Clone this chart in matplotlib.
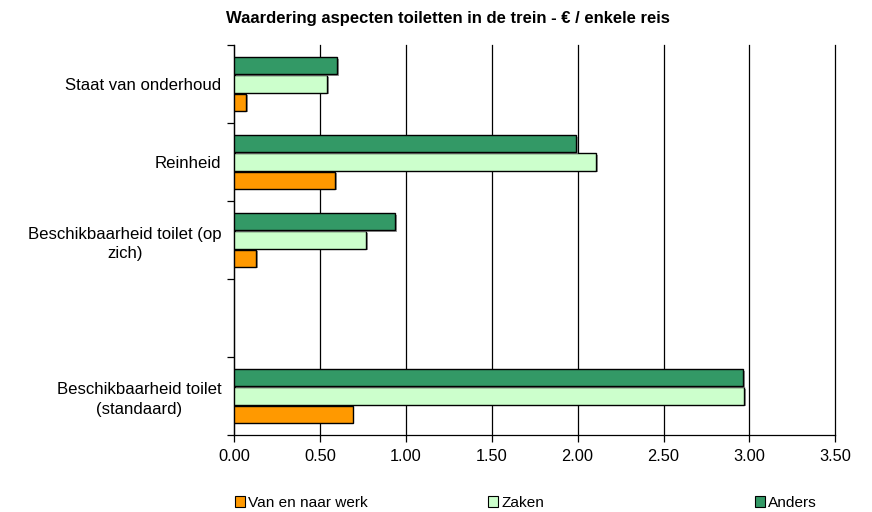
import matplotlib
matplotlib.use("Agg")
import matplotlib.pyplot as plt
import matplotlib.patheffects as pe
from matplotlib.patches import Patch
import numpy as np

plt.rcParams['font.family'] = ['Liberation Sans', 'DejaVu Sans']

# categories listed bottom -> top
categories = ["Beschikbaarheid toilet\n(standaard)", "", "Beschikbaarheid toilet (op\nzich)",
              "Reinheid", "Staat van onderhoud"]
van_en_naar_werk = [0.69, 0.0, 0.13, 0.59, 0.07]
zaken = [2.97, 0.0, 0.77, 2.11, 0.54]
anders = [2.965, 0.0, 0.94, 1.99, 0.60]
series_names = ["Van en naar werk", "Zaken", "Anders"]
colors = ["#FF9900", "#CCFFCC", "#339966"]
xticks = [0.0, 0.5, 1.0, 1.5, 2.0, 2.5, 3.0, 3.5]

fig = plt.figure(figsize=(8.72, 5.12), dpi=100)
ax = fig.add_axes([234/872, 1-435/512, (835.3-234)/872, (435-45)/512])

y = np.arange(len(categories))
h = 0.22
off = 0.232
shadow = [pe.SimplePatchShadow(offset=(1.3, -1.3), shadow_rgbFace='#808080', alpha=0.8), pe.Normal()]
vals = [van_en_naar_werk, zaken, anders]
offsets = [-off, 0, off]
for v, c, o in zip(vals, colors, offsets):
    yy = [yi + o for yi, vi in zip(y, v) if vi > 0]
    vv = [vi for vi in v if vi > 0]
    bars = ax.barh(yy, vv, height=h, color=c, edgecolor='black', linewidth=1.0, zorder=3)
    for b in bars:
        b.set_path_effects(shadow)

ax.set_xlim(0, 3.5)
ax.set_ylim(-0.5, len(categories) - 0.5)
ax.set_xticks(xticks)
ax.set_xticklabels([f"{t:.2f}" for t in xticks], fontsize=11.8)
ax.xaxis.grid(True, color='black', linewidth=0.9, zorder=0)
for gl in ax.get_xgridlines():
    gl.set_clip_on(False)
ax.set_axisbelow(True)
ax.tick_params(axis='x', direction='out', length=5, width=0.9, pad=5)

ax.set_yticks(np.arange(-0.5, len(categories)), minor=False)
ax.set_yticklabels([])
ax.tick_params(axis='y', which='major', direction='out', length=5, width=0.9)
ax.set_yticks(y, minor=True)
ax.set_yticklabels(categories, minor=True, fontsize=12.1)
ax.tick_params(axis='y', which='minor', length=0, pad=9)
for lbl in ax.get_yticklabels(minor=True):
    lbl.set_multialignment('center')
    lbl.set_linespacing(1.4)

for s in ['top', 'right']:
    ax.spines[s].set_visible(False)
for s in ['left', 'bottom']:
    ax.spines[s].set_linewidth(0.9)

fig.text(448/872, 1-19/512, "Waardering aspecten toiletten in de trein - € / enkele reis",
         fontsize=12, fontweight='bold', ha='center', va='center')

leg_x = [235, 488, 755]
for name, c, lx in zip(series_names, colors, leg_x):
    fig.legend(handles=[Patch(facecolor=c, edgecolor='black', linewidth=0.8)], labels=[name],
               loc='center left', bbox_to_anchor=(lx/872, 1-503/512), frameon=False,
               fontsize=11.1, handlelength=0.65, handleheight=0.65, handletextpad=0.2,
               borderpad=0, borderaxespad=0)

fig.savefig("out.png", dpi=100)
